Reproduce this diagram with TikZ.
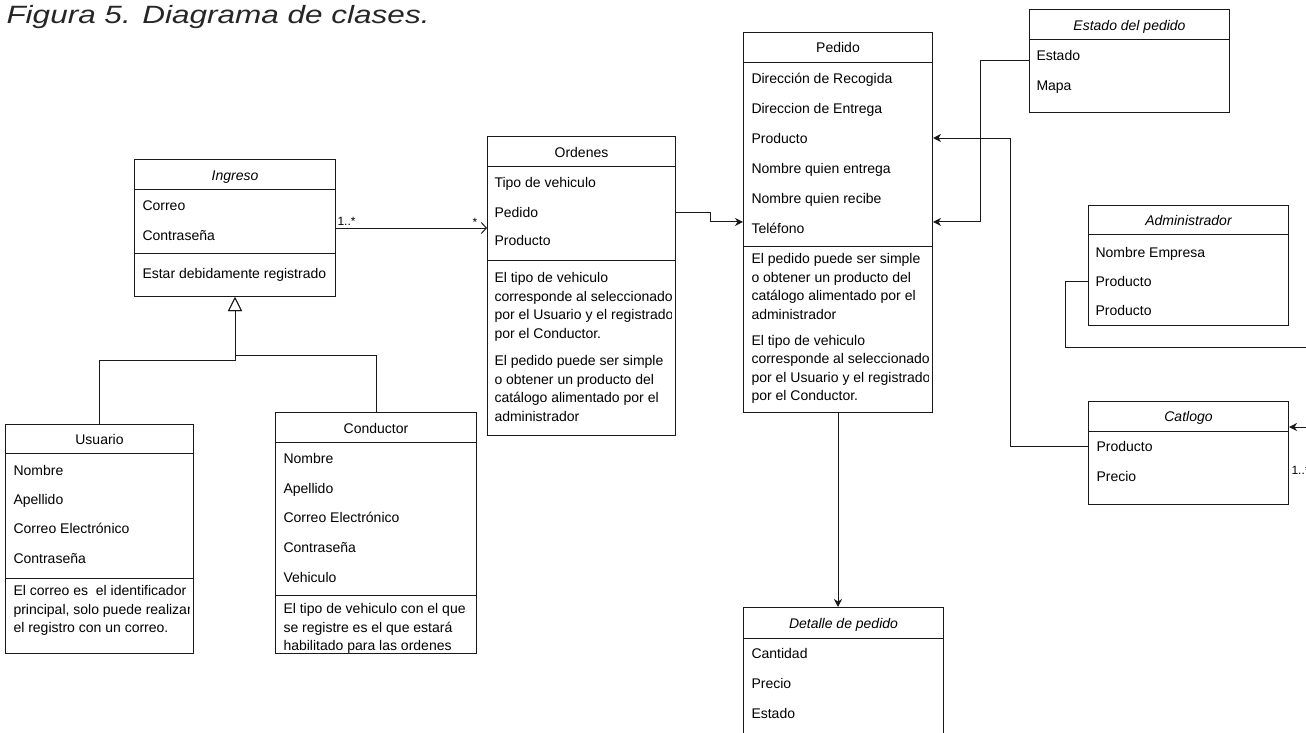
\documentclass[tikz,border=0pt]{standalone}
\usepackage{fontspec}
\setmainfont{Liberation Sans}
\usetikzlibrary{arrows.meta,positioning,calc}

\begin{document}
\begin{tikzpicture}[
    x=1pt, y=-1pt,
    line width=1pt,
    classbox/.style={
        rectangle, draw=black!90, anchor=north west, inner sep=0pt
    },
    classname/.style={anchor=base, inner sep=0pt, font=\fontsize{14}{18.5}\selectfont},
    absname/.style={classname, font=\fontsize{14}{18.5}\selectfont\itshape},
    attr/.style={anchor=base west, inner sep=0pt, font=\fontsize{14}{18.5}\selectfont},
    note/.style={anchor=north west, inner sep=0pt, align=left, font=\fontsize{14}{18.5}\selectfont},
    mult/.style={anchor=base west, inner sep=0pt, font=\fontsize{12}{14}\selectfont},
    plain/.style={draw=black!90},
    assoc/.style={plain, -{Straight Barb[length=5pt,width=11pt]}},
    link/.style={plain, -{Stealth[length=8pt,width=8pt,inset=2.5pt]}},
    inherit/.style={plain, -{Triangle[open,length=14pt,width=14pt,fill=white]}}
]
\useasboundingbox (0,0) rectangle (1306,732);
\clip (0,0) rectangle (1306,732);
\fill[white] (0,0) rectangle (1306,732);

% Title
\node[anchor=base west, inner sep=0pt, font=\fontsize{25}{30}\selectfont\itshape, text=black!85] (titulo) at (6,23)
    {\scalebox{1.26}[1]{Figura 5. Diagrama de clases.}};

% Class boxes
\node[classbox, minimum width=201pt, minimum height=137pt] (ingreso) at (134,159) {};
\node[classbox, minimum width=188pt, minimum height=299pt] (ordenes) at (487,136) {};
\node[classbox, minimum width=189pt, minimum height=380pt] (pedido) at (743,32) {};
\node[classbox, minimum width=200pt, minimum height=103pt] (estado) at (1029,9) {};
\node[classbox, minimum width=200pt, minimum height=120pt] (admin) at (1088,205) {};
\node[classbox, minimum width=200pt, minimum height=103pt] (catlogo) at (1088,401) {};
\node[classbox, minimum width=188pt, minimum height=229pt] (usuario) at (5,424) {};
\node[classbox, minimum width=201pt, minimum height=241pt] (conductor) at (275,412) {};
\node[classbox, minimum width=200pt, minimum height=160pt] (detalle) at (743,607) {};

% Header and separator lines
\draw[plain] ([yshift=-30pt]ingreso.north west) -- ([yshift=-30pt]ingreso.north east);
\draw[plain] ([yshift=-94pt]ingreso.north west) -- ([yshift=-94pt]ingreso.north east);
\draw[plain] ([yshift=-30pt]ordenes.north west) -- ([yshift=-30pt]ordenes.north east);
\draw[plain] ([yshift=-124pt]ordenes.north west) -- ([yshift=-124pt]ordenes.north east);
\draw[plain] ([yshift=-30pt]pedido.north west) -- ([yshift=-30pt]pedido.north east);
\draw[plain] ([yshift=-214pt]pedido.north west) -- ([yshift=-214pt]pedido.north east);
\draw[plain] ([yshift=-30pt]estado.north west) -- ([yshift=-30pt]estado.north east);
\draw[plain] ([yshift=-29pt]admin.north west) -- ([yshift=-29pt]admin.north east);
\draw[plain] ([yshift=-30pt]catlogo.north west) -- ([yshift=-30pt]catlogo.north east);
\draw[plain] ([yshift=-29pt]usuario.north west) -- ([yshift=-29pt]usuario.north east);
\draw[plain] ([yshift=-154pt]usuario.north west) -- ([yshift=-154pt]usuario.north east);
\draw[plain] ([yshift=-30pt]conductor.north west) -- ([yshift=-30pt]conductor.north east);
\draw[plain] ([yshift=-183pt]conductor.north west) -- ([yshift=-183pt]conductor.north east);
\draw[plain] ([yshift=-31pt]detalle.north west) -- ([yshift=-31pt]detalle.north east);

% Class names
\node[absname] (ingresoN) at ([yshift=-21pt]ingreso.north) {Ingreso};
\node[classname] (ordenesN) at ([yshift=-21pt]ordenes.north) {Ordenes};
\node[classname] (pedidoN) at ([yshift=-20pt]pedido.north) {Pedido};
\node[absname] (estadoN) at ([yshift=-21pt]estado.north) {Estado del pedido};
\node[absname] (adminN) at ([yshift=-20pt]admin.north) {Administrador};
\node[absname] (catlogoN) at ([yshift=-20pt]catlogo.north) {Catlogo};
\node[classname] (usuarioN) at ([yshift=-20pt]usuario.north) {Usuario};
\node[classname] (conductorN) at ([yshift=-21pt]conductor.north) {Conductor};
\node[absname] (detalleN) at ([yshift=-21pt]detalle.north) {Detalle de pedido};

% Attributes
\node[attr] (ingA1) at (142,210) {Correo};
\node[attr] (ingA2) at (142,240) {Contraseña};
\node[attr] (ingM1) at (142,278) {Estar debidamente registrado};

\node[attr] (ordA1) at (494,187) {Tipo de vehiculo};
\node[attr] (ordA2) at (494,217) {Pedido};
\node[attr] (ordA3) at (494,245) {Producto};

\node[attr] (pedA1) at (751,83) {Dirección de Recogida};
\node[attr] (pedA2) at (751,113) {Direccion de Entrega};
\node[attr] (pedA3) at (751,143) {Producto};
\node[attr] (pedA4) at (751,173) {Nombre quien entrega};
\node[attr] (pedA5) at (751,203) {Nombre quien recibe};
\node[attr] (pedA6) at (751,233) {Teléfono};

\node[attr] (estA1) at (1036,60) {Estado};
\node[attr] (estA2) at (1036,90) {Mapa};

\node[attr] (admA1) at (1095,257) {Nombre Empresa};
\node[attr] (admA2) at (1095,286) {Producto};
\node[attr] (admA3) at (1095,315) {Producto};

\node[attr] (catA1) at (1096,451) {Producto};
\node[attr] (catA2) at (1096,481) {Precio};

\node[attr] (usuA1) at (13,475) {Nombre};
\node[attr] (usuA2) at (13,504) {Apellido};
\node[attr] (usuA3) at (13,533) {Correo Electrónico};
\node[attr] (usuA4) at (13,563) {Contraseña};

\node[attr] (conA1) at (283,463) {Nombre};
\node[attr] (conA2) at (283,493) {Apellido};
\node[attr] (conA3) at (283,522) {Correo Electrónico};
\node[attr] (conA4) at (283,552) {Contraseña};
\node[attr] (conA5) at (283,582) {Vehiculo};

\node[attr] (detA1) at (751,658) {Cantidad};
\node[attr] (detA2) at (751,688) {Precio};
\node[attr] (detA3) at (751,718) {Estado};

% Notes (cut at the box edge)
\begin{scope}
\clip (ordenes.north west) rectangle ([xshift=-5pt]ordenes.south east);
\node[note] (ordNota) at (494,272) {El tipo de vehiculo\\corresponde al seleccionado\\por el Usuario y el registrado\\por el Conductor.\\[9pt]El pedido puede ser simple\\o obtener un producto del\\catálogo alimentado por el\\administrador};
\end{scope}
\begin{scope}
\clip (pedido.north west) rectangle ([xshift=-5pt]pedido.south east);
\node[note] (pedNota) at (751,253) {El pedido puede ser simple\\o obtener un producto del\\catálogo alimentado por el\\administrador\\[7.5pt]El tipo de vehiculo\\corresponde al seleccionado\\por el Usuario y el registrado\\por el Conductor.};
\end{scope}
\begin{scope}
\clip (usuario.north west) rectangle ([xshift=-5pt]usuario.south east);
\node[note] (usuNota) at (13,585) {El correo es\ \ el identificador\\principal, solo puede realizar\\el registro con un correo.};
\end{scope}
\node[note] (conNota) at (283,603) {El tipo de vehiculo con el que\\se registre es el que estará\\habilitado para las ordenes};

% Connectors
\draw[assoc] (ingreso.east) -- (ingreso.east -| ordenes.west);
\node[mult] (multA) at (337,225) {1..*};
\node[mult] (multB) at (472,226) {*};

\draw[link] (ordenes.east |- ordA2) -- ++(34,0) |- ($(pedido.west |- pedA6)+(0,-6)$);
\draw[link] (estado.west |- estA1.base) -- ++(-49,0) |- ($(pedido.east |- pedA6)+(0,-6)$);
\draw[link] (catlogo.west |- catA1) -- ++(-78,0) |- (pedido.east |- pedA3);
\draw[link] (pedido.south) -- (pedido.south |- detalle.north);

\coordinate (adminOut) at (1306,347);
\draw[plain] (admin.west |- admA2) -- ++(-23,0) |- (adminOut);
\coordinate (catIn) at (1306,427);
\draw[link] (catIn) -- (catIn -| catlogo.east);
\node[mult] (multC) at (1291,474) {1..*};

% Generalization
\draw[inherit] (usuario.north) -- ++(0,-64) -| (ingreso.south);
\draw[inherit] (conductor.north) -- ++(0,-57) -| (ingreso.south);

\end{tikzpicture}
\end{document}
